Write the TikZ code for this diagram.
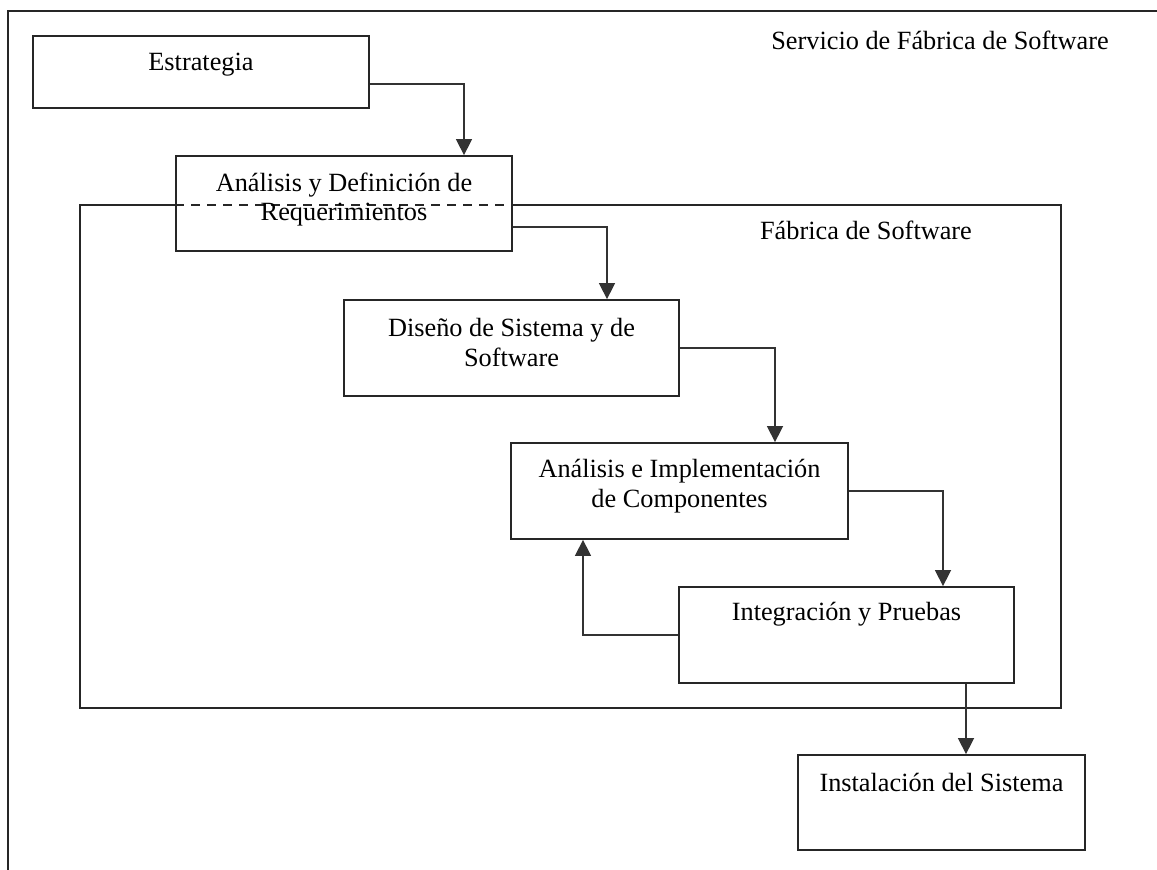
\documentclass[tikz,border=0pt]{standalone}
\usepackage{fontspec}
\setmainfont{Liberation Serif}
\usetikzlibrary{arrows.meta,calc}

\tikzset{
  box/.style={draw=black!85, line width=1.8pt, rectangle, inner sep=0pt},
  txt/.style={inner sep=0pt, align=center, font=\fontsize{26.3}{29.5}\selectfont},
  arr/.style={draw=black!80, line width=1.5pt, -{Triangle[width=16pt,length=16pt]}},
  frame/.style={draw=black!85, line width=1.8pt},
}

\begin{document}
\begin{tikzpicture}[x=1pt,y=-1pt]
  \useasboundingbox (0,0) rectangle (1157,870);

  % outer service frame (open to the right and bottom)
  \coordinate (svcA) at (8,870);
  \coordinate (svcB) at (8,11);
  \coordinate (svcC) at (1157,11);
  \draw[frame] (svcA) -- (svcB) -- (svcC);
  \node[txt] (svc) at (940,40) {Servicio de Fábrica de Software};

  % process boxes
  \node[box, minimum width=336pt, minimum height=72pt] (estr) at (201,72) {};
  \node[box, minimum width=336pt, minimum height=95pt] (ana)  at (344,203.5) {};
  \node[box, minimum width=335pt, minimum height=96pt] (dis)  at (511.5,348) {};
  \node[box, minimum width=337pt, minimum height=96pt] (aei)  at (679.5,491) {};
  \node[box, minimum width=335pt, minimum height=96pt] (integ) at (846.5,635) {};
  \node[box, minimum width=287pt, minimum height=95pt] (inst) at (941.5,802.5) {};

  % factory frame; its top edge is dashed where it crosses the requirements box
  \node[minimum width=981pt, minimum height=503pt, inner sep=0pt] (fab) at (570.5,456.5) {};
  \draw[frame] (ana.west |- fab.north) -- (fab.north west) -- (fab.south west)
               -- (fab.south east) -- (fab.north east) -- (ana.east |- fab.north);
  \draw[frame, line width=1.4pt, dash pattern=on 9pt off 7pt]
       (ana.west |- fab.north) -- (ana.east |- fab.north);
  \node[txt] (fabl) at (866,230) {Fábrica de Software};

  % box labels
  \node[txt] (estrl) at (201,65) {Estrategia};
  \node[txt] (anal) at (344,199.5) {Análisis y Definición de\\Requerimientos};
  \node[txt] (disl) at (511.5,342.5) {Diseño de Sistema y de\\Software};
  \node[txt] (aeil) at (679.5,486) {Análisis e Implementación\\de Componentes};
  \node[txt] (integl) at (846.5,614) {Integración y Pruebas};
  \node[txt] (instl) at (941.5,782) {Instalación del Sistema};

  % flow connectors
  \draw[arr] ([yshift=-12pt]estr.east) -| ([xshift=120pt]ana.north);
  \draw[arr] ([yshift=-23.5pt]ana.east) -| ([xshift=95.5pt]dis.north);
  \draw[arr] (dis.east) -| ([xshift=95.5pt]aei.north);
  \draw[arr] (aei.east) -| ([xshift=96.5pt]integ.north);
  \draw[arr] (integ.west) -| ([xshift=-96.5pt]aei.south);
  \draw[arr] ([xshift=119.5pt]integ.south) -- ([xshift=119.5pt]integ.south |- inst.north);
\end{tikzpicture}
\end{document}
